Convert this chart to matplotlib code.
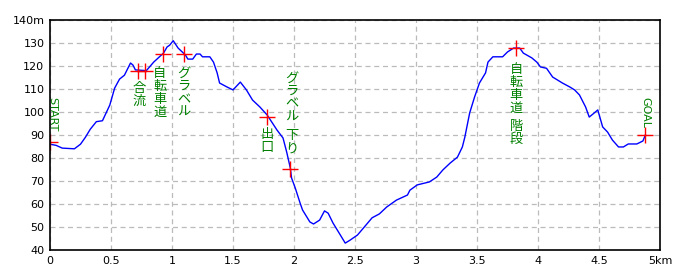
import matplotlib.pyplot as plt

plt.rcParams['font.family'] = ['DejaVu Sans', 'Noto Sans CJK JP']

# elevation profile (km, m)
dist = [0.00, 0.05, 0.10, 0.20, 0.25, 0.29, 0.33, 0.38, 0.43, 0.49, 0.53, 0.57, 0.61,
        0.66, 0.68, 0.70, 0.79, 0.85, 0.93, 0.96, 0.98, 1.01, 1.05, 1.11, 1.13, 1.17,
        1.20, 1.23, 1.25, 1.31, 1.34, 1.37, 1.39, 1.45, 1.50, 1.53, 1.56, 1.61, 1.66,
        1.72, 1.78, 1.86, 1.91, 1.94, 1.97, 1.98, 2.01, 2.05, 2.07, 2.13, 2.16, 2.21,
        2.25, 2.28, 2.32, 2.38, 2.42, 2.46, 2.52, 2.57, 2.64, 2.70, 2.76, 2.84, 2.93,
        2.95, 3.01, 3.11, 3.17, 3.22, 3.28, 3.34, 3.38, 3.40, 3.42, 3.44, 3.48, 3.52,
        3.57, 3.59, 3.63, 3.71, 3.75, 3.80, 3.85, 3.88, 3.95, 3.99, 4.02, 4.07, 4.12,
        4.16, 4.20, 4.26, 4.30, 4.34, 4.39, 4.42, 4.45, 4.49, 4.53, 4.57, 4.61, 4.66,
        4.70, 4.74, 4.81, 4.86, 4.88]
elev = [86.0, 85.5, 84.3, 84.0, 86.0, 89.0, 92.5, 95.8, 96.2, 103.0, 110.4, 114.3, 116.0,
        121.3, 120.4, 118.3, 118.0, 121.7, 125.6, 128.3, 129.0, 131.0, 127.8, 124.8, 123.0, 123.0,
        125.2, 125.2, 124.0, 124.0, 121.7, 117.0, 112.6, 110.9, 109.6, 111.3, 113.0, 109.6, 105.2,
        102.2, 98.7, 92.2, 88.7, 82.6, 75.6, 71.3, 67.0, 60.4, 57.4, 52.2, 51.3, 53.0,
        57.0, 56.0, 51.7, 46.5, 43.0, 44.3, 46.5, 49.6, 54.0, 55.7, 58.7, 61.7, 63.9,
        66.0, 68.3, 69.6, 71.7, 74.8, 77.8, 80.4, 84.8, 89.0, 94.3, 99.6, 106.5, 112.6,
        117.0, 121.7, 124.0, 124.0, 126.1, 127.8, 127.8, 125.6, 123.5, 121.7, 119.6, 119.0, 115.2,
        113.9, 112.6, 110.9, 109.6, 107.4, 102.2, 97.8, 99.1, 100.9, 93.5, 91.3, 87.8, 84.8,
        84.8, 86.1, 86.1, 87.4, 90.0]

# waypoints
wp_x = [0.00, 0.72, 0.78, 0.93, 1.10, 1.78, 1.97, 3.82, 4.88]
wp_y = [87, 118, 118, 125, 125, 98, 75, 128, 90]

# vertical labels: x, top y, text
lab_x = [0.73, 0.90, 1.10, 1.78, 1.98, 1.98, 3.82, 3.82]
lab_y = [113, 119.5, 119.5, 93, 117.5, 92.5, 121.5, 96.5]
lab_t = ["合流", "自転車道", "グラベル", "出口", "グラベル", "下り", "自転車道", "階段"]

fig = plt.figure(figsize=(7, 2.8), dpi=100)
ax = fig.add_axes([50/700, 30/280, 610/700, 230/280])

ax.plot(dist, elev, color='blue', lw=1)
ax.plot(wp_x, wp_y, '+', color='red', ms=12, mew=1)

for x, y, t in zip(lab_x, lab_y, lab_t):
    ax.text(x, y, "\n".join(t), color='green', fontsize=9.5, ha='center', va='top',
            linespacing=1.0, family=['Noto Sans CJK JP', 'DejaVu Sans'])

ax.text(0.02, 106.5, "START", color='green', fontsize=8, rotation=-90,
        ha='center', va='top')
ax.text(4.88, 106.5, "GOAL", color='green', fontsize=8, rotation=-90,
        ha='center', va='top')

ax.set_xlim(0, 5)
ax.set_ylim(40, 140)
xt = [0, 0.5, 1, 1.5, 2, 2.5, 3, 3.5, 4, 4.5, 5]
ax.set_xticks(xt)
ax.set_xticklabels(["0", "0.5", "1", "1.5", "2", "2.5", "3", "3.5", "4", "4.5", "5km"])
yt = list(range(40, 141, 10))
ax.set_yticks(yt)
ax.set_yticklabels([str(v) for v in yt[:-1]] + ["140m"])
ax.tick_params(labelsize=8, length=0, pad=4)
ax.grid(True, color='#bbbbbb', ls=(0, (4, 3)), lw=0.9)
for s in ax.spines.values():
    s.set_linewidth(1.2)

fig.savefig("out.png", dpi=100)
